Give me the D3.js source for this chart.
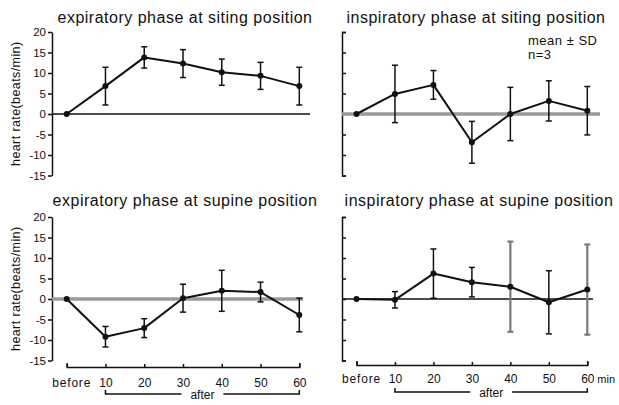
<!DOCTYPE html>
<html>
<head>
<meta charset="utf-8">
<script src="https://cdn.jsdelivr.net/npm/d3@7"></script>
<style>
  html, body { margin: 0; padding: 0; background: #fff; }
  svg { display: block; font-family: "Liberation Sans", Arial, Helvetica, sans-serif; }
  text { fill: #111; }
</style>
</head>
<body>
<svg id="chart" width="619" height="405"></svg>
<script>
// Time points: baseline, then minutes after
const timeLabels = ["before", "10", "20", "30", "40", "50", "60"];

// Heart-rate change (beats/min), mean and SD, n = 3
const expSitMean  = [0, 6.8, 13.8, 12.3, 10.2, 9.3, 6.8];
const expSitSD    = [0, 4.6, 2.6, 3.4, 3.2, 3.3, 4.6];
const inspSitMean = [0, 4.9, 7.1, -6.9, 0.0, 3.2, 0.8];
const inspSitSD   = [0, 7.0, 3.5, 5.1, 6.5, 4.9, 5.9];
const expSupMean  = [0, -9.2, -7.1, 0.2, 2.0, 1.7, -3.9];
const expSupSD    = [0, 2.5, 2.3, 3.4, 5.0, 2.4, 4.1];
const inspSupMean = [0, -0.2, 6.2, 4.1, 3.0, -0.8, 2.3];
const inspSupSD   = [0, 2.0, 6.0, 3.6, 11.0, 7.7, 11.0];

const yTicks = [20, 15, 10, 5, 0, -5, -10, -15];
const panelTitles = [
  "expiratory phase at siting position",
  "inspiratory phase at siting position",
  "expiratory phase at supine position",
  "inspiratory phase at supine position"
];
const yAxisTitle = "heart rate(beats/min)";

const svg = d3.select("#chart");

// Panel layout
const panels = [
  { title: panelTitles[0], mean: expSitMean,  sd: expSitSD,  axisX: 52,  x0: 66.7,  x1: 299.3, top: 32,  bottom: 175.5, zeroEnd: 310, zeroStyle: "black", labels: true,  xAxis: false, titleX: 185, titleY: 23 },
  { title: panelTitles[1], mean: inspSitMean, sd: inspSitSD, axisX: 342, x0: 356.5, x1: 587.3, top: 32,  bottom: 175.5, zeroEnd: 600, zeroStyle: "gray",  labels: false, xAxis: false, titleX: 476, titleY: 23 },
  { title: panelTitles[2], mean: expSupMean,  sd: expSupSD,  axisX: 52,  x0: 66.7,  x1: 299.3, top: 217, bottom: 360.5, zeroEnd: 303, zeroStyle: "gray",  labels: true,  xAxis: true,  titleX: 185, titleY: 206, axisY: 367, labelY: 387, bracketY: 394 },
  { title: panelTitles[3], mean: inspSupMean, sd: inspSupSD, axisX: 342, x0: 356.5, x1: 587.3, top: 217, bottom: 360.5, zeroEnd: 593, zeroStyle: "black", labels: false, xAxis: true,  titleX: 479, titleY: 206, axisY: 365, labelY: 383, bracketY: 392, faint: [4, 6], unit: "min" }
];

const signed = d => d < 0 ? "-" + Math.abs(d) : String(d);

panels.forEach(p => {
  const g = svg.append("g");
  const idx = d3.range(timeLabels.length);
  const x = d3.scaleLinear().domain([0, timeLabels.length - 1]).range([p.x0, p.x1]);
  const y = d3.scaleLinear().domain([-15, 20]).range([p.bottom, p.top]);

  // title
  g.append("text")
    .attr("x", p.titleX).attr("y", p.titleY)
    .attr("text-anchor", "middle")
    .style("font-size", "16px")
    .style("letter-spacing", "0.5px")
    .text(p.title);

  // y axis: labelled on the left column, bare ticks on the right column
  const yAxis = (p.labels ? d3.axisLeft(y) : d3.axisRight(y))
    .tickValues(yTicks)
    .tickSize(4)
    .tickSizeOuter(p.labels ? 0 : 4)
    .tickPadding(2)
    .tickFormat(p.labels ? signed : () => "");
  const ya = g.append("g")
    .attr("transform", `translate(${p.axisX},0)`)
    .call(yAxis);
  ya.selectAll("path, line").attr("stroke", "#111").attr("stroke-width", 1.5);
  ya.selectAll("text")
    .style("font-size", "11.5px")
    .style("font-family", "'Liberation Sans', Arial, sans-serif")
    .attr("fill", "#111");

  if (p.labels) {
    g.append("text")
      .attr("transform", `translate(16,${(p.top + p.bottom) / 2}) rotate(-90)`)
      .attr("text-anchor", "middle")
      .attr("dy", "0.35em")
      .style("font-size", "12.5px")
      .style("letter-spacing", "0.4px")
      .text(yAxisTitle);
  }

  // zero reference line
  g.append("line")
    .attr("x1", p.axisX).attr("x2", p.zeroEnd)
    .attr("y1", y(0)).attr("y2", y(0))
    .attr("stroke", p.zeroStyle === "gray" ? "#9a9a9a" : "#111")
    .attr("stroke-width", p.zeroStyle === "gray" ? 3.5 : 1.6);

  // error bars
  const faint = p.faint || [];
  const eb = g.append("g").selectAll("g")
    .data(idx.filter(i => p.sd[i] > 0))
    .join("g")
    .attr("stroke", i => faint.includes(i) ? "#7a7a7a" : "#111")
    .attr("stroke-width", i => faint.includes(i) ? 2.2 : 1.5);
  eb.append("line")
    .attr("x1", i => x(i)).attr("x2", i => x(i))
    .attr("y1", i => y(p.mean[i] + p.sd[i]))
    .attr("y2", i => y(p.mean[i] - p.sd[i]));
  eb.append("line")
    .attr("x1", i => x(i) - 3).attr("x2", i => x(i) + 3)
    .attr("y1", i => y(p.mean[i] + p.sd[i])).attr("y2", i => y(p.mean[i] + p.sd[i]));
  eb.append("line")
    .attr("x1", i => x(i) - 3).attr("x2", i => x(i) + 3)
    .attr("y1", i => y(p.mean[i] - p.sd[i])).attr("y2", i => y(p.mean[i] - p.sd[i]));

  // mean line
  g.append("path")
    .datum(idx)
    .attr("fill", "none")
    .attr("stroke", "#111")
    .attr("stroke-width", 2)
    .attr("stroke-linejoin", "round")
    .attr("d", d3.line().x(i => x(i)).y(i => y(p.mean[i])));

  // markers
  g.append("g").selectAll("circle")
    .data(idx)
    .join("circle")
    .attr("cx", i => x(i)).attr("cy", i => y(p.mean[i]))
    .attr("r", 3)
    .attr("fill", "#111");

  // time axis under the supine panels
  if (p.xAxis) {
    const xAxis = d3.axisBottom(x)
      .tickValues(idx)
      .tickSize(-3)
      .tickSizeOuter(-4)
      .tickPadding(0)
      .tickFormat(i => timeLabels[i]);
    const xa = g.append("g")
      .attr("transform", `translate(0,${p.axisY})`)
      .call(xAxis);
    xa.selectAll("path, line").attr("stroke", "#111").attr("stroke-width", 1.5);
    xa.selectAll("text")
      .attr("y", p.labelY - p.axisY)
      .attr("dy", 0)
      .attr("dx", i => i === 0 ? 4.5 : 0)
      .style("font-size", "12px")
      .style("letter-spacing", i => i === 0 ? "0.8px" : "0px")
      .style("font-family", "'Liberation Sans', Arial, sans-serif")
      .attr("fill", "#111");

    if (p.unit) {
      g.append("text")
        .attr("x", x(6) + 10).attr("y", p.labelY)
        .style("font-size", "11px")
        .text(p.unit);
    }

    // "after" bracket spanning 10–60 min
    const mid = (x(1) + x(6)) / 2;
    const gap = 21;
    const by = p.bracketY;
    g.append("path")
      .attr("fill", "none").attr("stroke", "#111").attr("stroke-width", 1.5)
      .attr("d", `M${x(1)},${by - 4}V${by}H${mid - gap}M${mid + gap},${by}H${x(6)}V${by - 4}`);
    g.append("text")
      .attr("x", mid).attr("y", by + 5)
      .attr("text-anchor", "middle")
      .style("font-size", "12px")
      .text("after");
  }
});

// legend note in the upper-right panel
svg.append("text").attr("x", 528).attr("y", 45)
  .style("font-size", "13px").style("letter-spacing", "0.5px")
  .text("mean \u00B1 SD");
svg.append("text").attr("x", 528).attr("y", 59)
  .style("font-size", "13px").style("letter-spacing", "0.5px")
  .text("n=3");
</script>
</body>
</html>
